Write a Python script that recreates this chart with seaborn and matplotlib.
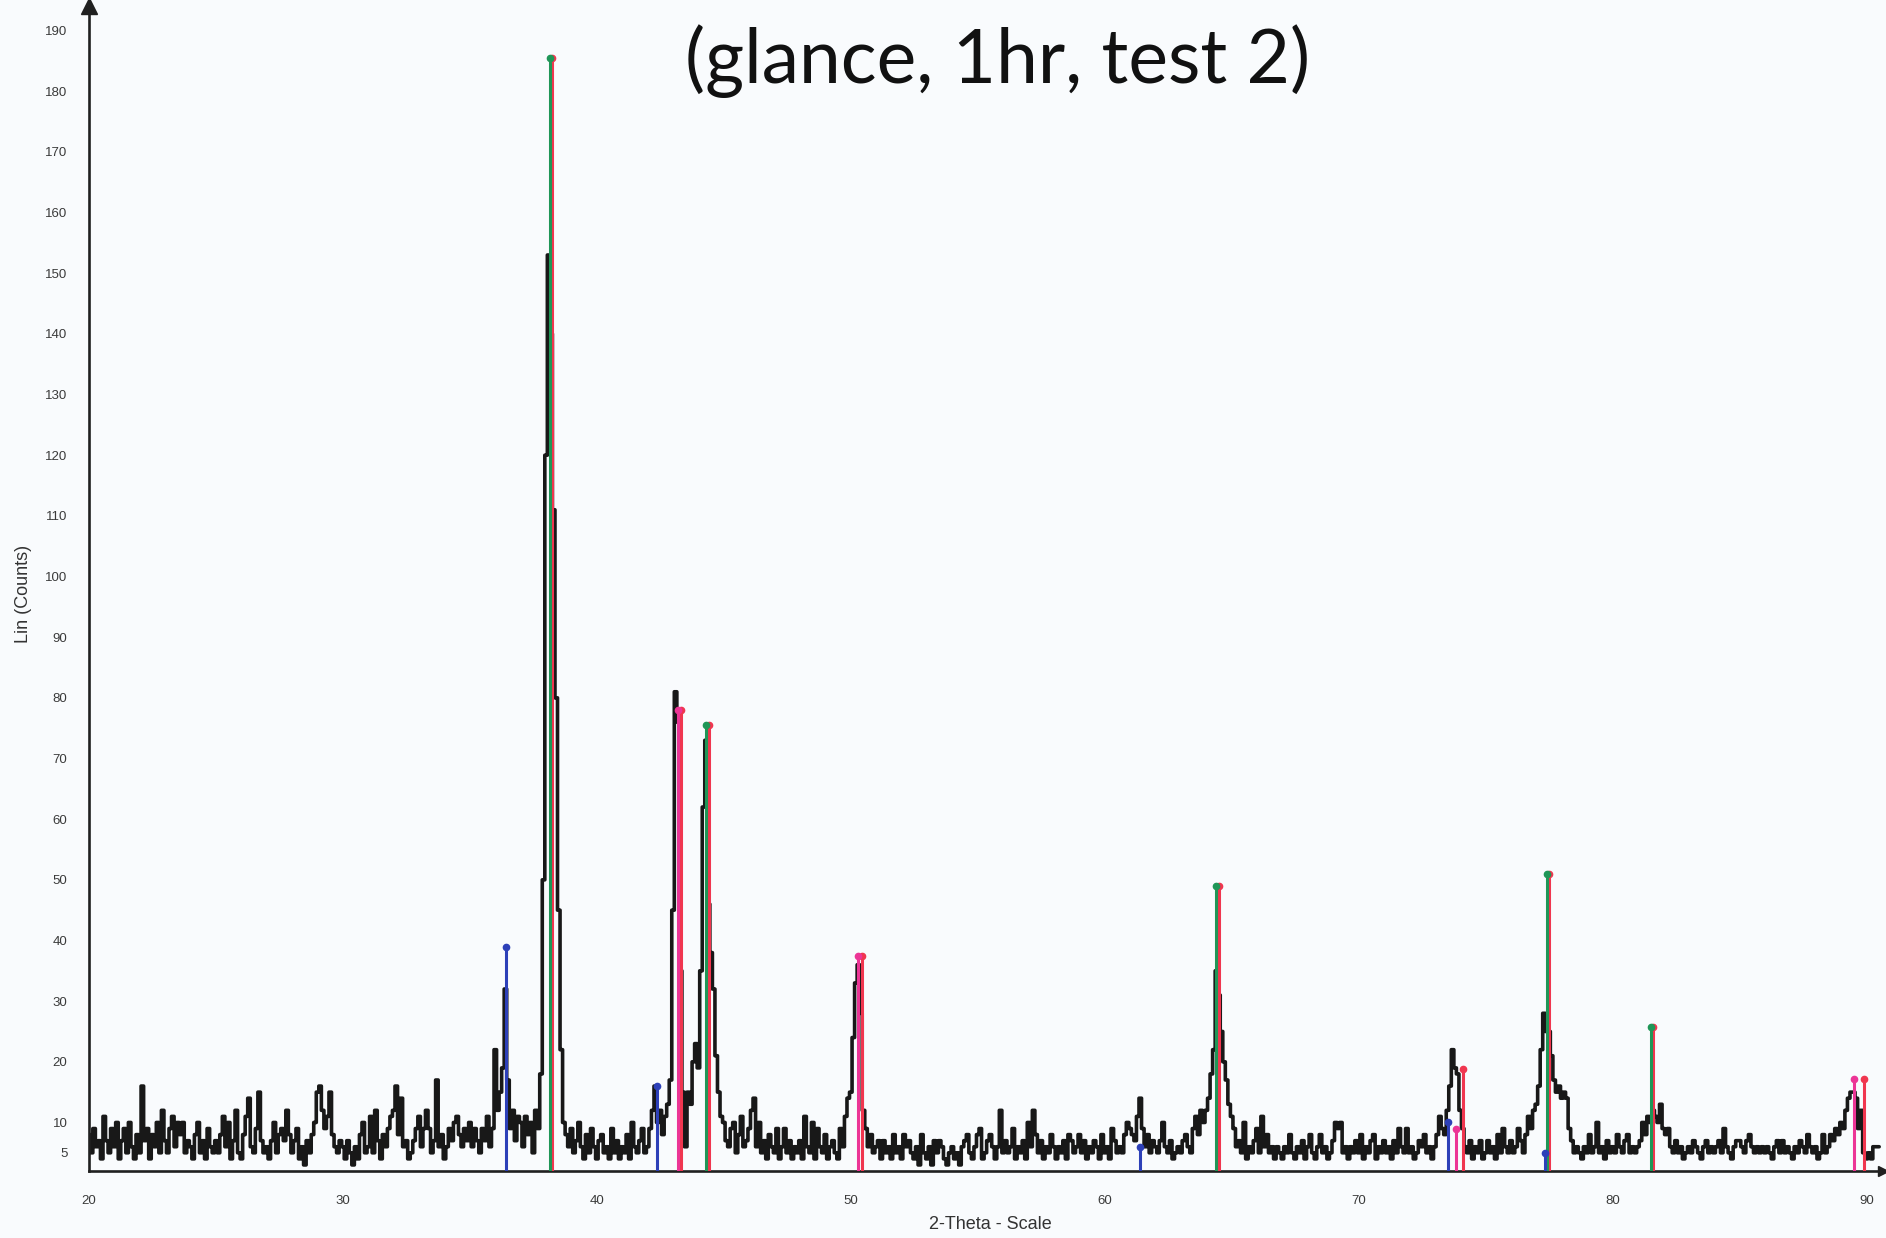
#!/usr/bin/env python3
"""
XRD scan (glance, 1hr, test 2) - raw counts vs 2-theta with phase stick markers.
"""

import numpy as np
import matplotlib
matplotlib.use('Agg')
import matplotlib.pyplot as plt
import seaborn as sns

sns.set_style("white")
plt.rcParams['font.family'] = ['Liberation Sans', 'DejaVu Sans']

# scan grid: 20.0 .. 90.5 deg, 0.1 deg step
two_theta_start = 20.0
two_theta_step = 0.1

# counts, one row per degree
counts_20s = [
    8, 5, 9, 6, 7, 4, 11, 7, 5, 9,
    6, 10, 4, 7, 9, 5, 10, 6, 4, 8,
    5, 16, 7, 9, 4, 8, 6, 10, 5, 12,
    7, 5, 9, 11, 6, 10, 8, 10, 5, 7,
    6, 4, 8, 10, 5, 7, 4, 9, 6, 5,
    7, 5, 8, 11, 6, 10, 4, 7, 12, 5,
    4, 8, 11, 14, 6, 5, 9, 15, 7, 5,
    6, 4, 7, 10, 5, 8, 9, 7, 12, 8,
    5, 7, 9, 4, 6, 3, 7, 5, 8, 10,
    15, 16, 12, 9, 11, 15, 8, 6, 5, 7,
]
counts_30s = [
    6, 4, 7, 5, 3, 6, 4, 8, 10, 5,
    6, 11, 5, 12, 7, 4, 8, 6, 9, 11,
    12, 16, 8, 14, 6, 7, 4, 5, 7, 9,
    11, 6, 9, 12, 9, 5, 7, 17, 6, 8,
    4, 6, 9, 7, 10, 11, 8, 6, 9, 7,
    10, 6, 9, 7, 5, 9, 7, 11, 6, 9,
    22, 12, 15, 19, 32, 17, 9, 12, 7, 11,
    10, 6, 11, 8, 10, 5, 12, 9, 18, 50,
    120, 153, 140, 111, 80, 45, 22, 10, 8, 6,
    9, 5, 7, 10, 6, 4, 8, 5, 9, 6,
]
counts_40s = [
    4, 7, 8, 5, 6, 4, 9, 5, 7, 4,
    6, 5, 8, 4, 10, 6, 5, 7, 9, 5,
    6, 9, 12, 16, 10, 12, 8, 11, 13, 17,
    45, 81, 76, 35, 15, 6, 15, 13, 20, 23,
    19, 35, 62, 73, 46, 38, 32, 21, 15, 11,
    10, 7, 6, 9, 10, 5, 8, 11, 6, 7,
    9, 12, 14, 6, 10, 5, 7, 4, 8, 6,
    5, 9, 4, 6, 9, 5, 7, 4, 6, 5,
    7, 4, 11, 6, 5, 10, 4, 9, 6, 5,
    8, 4, 6, 7, 5, 4, 9, 6, 11, 14,
]
counts_50s = [
    15, 24, 33, 36, 28, 12, 9, 6, 8, 5,
    6, 7, 4, 7, 5, 6, 4, 8, 5, 6,
    4, 8, 6, 7, 5, 4, 6, 3, 8, 5,
    4, 6, 3, 7, 5, 7, 6, 4, 3, 5,
    6, 4, 5, 3, 6, 7, 8, 5, 4, 6,
    8, 9, 4, 5, 7, 8, 6, 4, 6, 12,
    5, 7, 5, 6, 9, 4, 6, 5, 7, 4,
    10, 6, 12, 8, 5, 7, 4, 6, 5, 8,
    6, 4, 6, 5, 7, 4, 8, 7, 5, 6,
    8, 5, 7, 4, 6, 5, 7, 6, 4, 8,
]
counts_60s = [
    5, 6, 4, 9, 7, 5, 6, 5, 8, 10,
    9, 8, 7, 11, 14, 9, 6, 8, 5, 7,
    6, 5, 7, 10, 6, 5, 7, 4, 5, 6,
    5, 7, 8, 6, 5, 9, 11, 8, 12, 10,
    12, 14, 18, 22, 35, 31, 25, 20, 17, 13,
    11, 9, 6, 7, 5, 10, 4, 6, 5, 7,
    9, 5, 11, 6, 8, 5, 6, 4, 6, 5,
    4, 6, 5, 8, 5, 4, 6, 5, 7, 4,
    6, 8, 5, 4, 6, 8, 5, 6, 4, 5,
    7, 10, 9, 10, 5, 6, 4, 6, 5, 7,
]
counts_70s = [
    5, 8, 4, 6, 5, 7, 8, 4, 6, 5,
    7, 5, 6, 4, 7, 5, 9, 6, 5, 9,
    5, 6, 4, 5, 7, 6, 8, 5, 6, 4,
    6, 8, 11, 9, 8, 12, 16, 22, 19, 18,
    12, 9, 6, 5, 7, 4, 6, 5, 7, 4,
    5, 7, 5, 6, 4, 8, 5, 9, 6, 5,
    7, 5, 6, 9, 7, 5, 8, 11, 9, 12,
    13, 16, 22, 28, 25, 25, 21, 17, 15, 16,
    14, 15, 14, 9, 7, 5, 6, 5, 4, 6,
    5, 8, 5, 6, 10, 5, 6, 4, 7, 5,
]
counts_80s = [
    6, 5, 8, 6, 5, 7, 8, 5, 6, 5,
    6, 7, 10, 8, 11, 10, 12, 11, 10, 13,
    9, 8, 9, 6, 5, 7, 5, 6, 4, 5,
    6, 5, 7, 6, 5, 4, 6, 7, 5, 6,
    5, 6, 7, 5, 9, 6, 5, 4, 6, 7,
    7, 6, 5, 7, 8, 6, 5, 6, 5, 6,
    5, 6, 5, 4, 6, 7, 5, 7, 5, 6,
    5, 4, 6, 5, 7, 6, 5, 8, 6, 5,
    6, 4, 5, 8, 5, 6, 8, 7, 9, 8,
    10, 9, 12, 14, 15, 15, 14, 9, 12, 5,
]
counts_90s = [4, 5, 4, 6, 6, 6]

# reference pattern sticks (position, relative height in counts)
green_pos = [38.15, 44.30, 64.40, 77.40, 81.50]
green_h = [185.5, 75.5, 49.0, 51.0, 25.8]
red_pos = [38.22, 43.30, 44.40, 50.45, 64.52, 74.10, 77.50, 81.60, 89.90]
red_h = [185.5, 78.0, 75.5, 37.5, 49.0, 18.8, 51.0, 25.8, 17.2]
magenta_pos = [43.20, 50.30, 73.85, 89.52]
magenta_h = [78.0, 37.5, 9.0, 17.2]
blue_pos = [36.42, 42.35, 61.40, 73.50, 77.35]
blue_h = [39.0, 16.0, 6.0, 10.0, 5.0]

y_major = [5] + list(range(10, 191, 10))
y_minor = list(range(15, 186, 10))


def main():
    counts = np.array(counts_20s + counts_30s + counts_40s + counts_50s
                      + counts_60s + counts_70s + counts_80s + counts_90s, dtype=float)
    two_theta = two_theta_start + two_theta_step * np.arange(len(counts))

    bg = '#f9fbfd'
    fig = plt.figure(figsize=(18.86, 12.38), dpi=100, facecolor=bg)
    ax = fig.add_axes([0.0472, 0.05412, 0.9512, 0.9408])
    ax.set_facecolor(bg)

    y_floor = 2.0
    sns.lineplot(x=two_theta, y=counts, ax=ax, color='#181818', linewidth=2.6,
                 drawstyle='steps-mid', estimator=None, zorder=2)

    # sticks: red and magenta first, green / blue on top
    for pos, h, col in [(red_pos, red_h, '#f0364f'),
                        (magenta_pos, magenta_h, '#ec3596'),
                        (green_pos, green_h, '#1f9657'),
                        (blue_pos, blue_h, '#2d40b8')]:
        ax.vlines(pos, y_floor, h, colors=col, linewidth=2.2, zorder=3)
        ax.plot(pos, h, 'o', color=col, markersize=4.5, zorder=4, clip_on=False)

    ax.set_xlim(20, 90.65)
    ax.set_ylim(y_floor, 194)

    for side in ['top', 'right']:
        ax.spines[side].set_visible(False)
    for side in ['left', 'bottom']:
        ax.spines[side].set_linewidth(1.9)
        ax.spines[side].set_color('#202020')

    # axis arrows
    ax.plot(0, 1, marker='^', color='#202020', markersize=11, transform=ax.transAxes,
            clip_on=False, zorder=5)
    ax.plot(1, 0, marker='>', color='#202020', markersize=7, transform=ax.transAxes,
            clip_on=False, zorder=5)

    ax.set_xticks(range(20, 91, 10))
    ax.set_xticks(range(20, 91, 1), minor=True)
    ax.set_yticks(y_major)
    ax.set_yticks(y_minor, minor=True)
    ax.tick_params(axis='x', which='major', length=7.5, width=1.4, color='#202020',
                   labelsize=9.5, labelcolor='#3a3a3a', pad=10)
    ax.tick_params(axis='x', which='minor', length=4, width=1.3, color='#202020')
    ax.tick_params(axis='y', which='major', length=8.5, width=1.4, color='#202020',
                   labelsize=9.5, labelcolor='#3a3a3a', pad=7)
    ax.tick_params(axis='y', which='minor', length=5, width=1.3, color='#202020')
    ax.set_xlabel('')
    ax.set_ylabel('')
    ax.grid(False)

    fig.text(0.525, 0.0113, '2-Theta - Scale', ha='center', va='center',
             fontsize=13, color='#333333')
    fig.text(0.0127, 0.52, 'Lin (Counts)', ha='center', va='center', rotation=90,
             fontsize=13, color='#333333')
    fig.text(0.529, 0.933, '(glance, 1hr, test 2)', ha='center', va='baseline',
             fontsize=54, color='#111111', family=['Lato', 'DejaVu Sans'])

    fig.savefig('out.png', dpi=100, facecolor=bg)


if __name__ == "__main__":
    main()
